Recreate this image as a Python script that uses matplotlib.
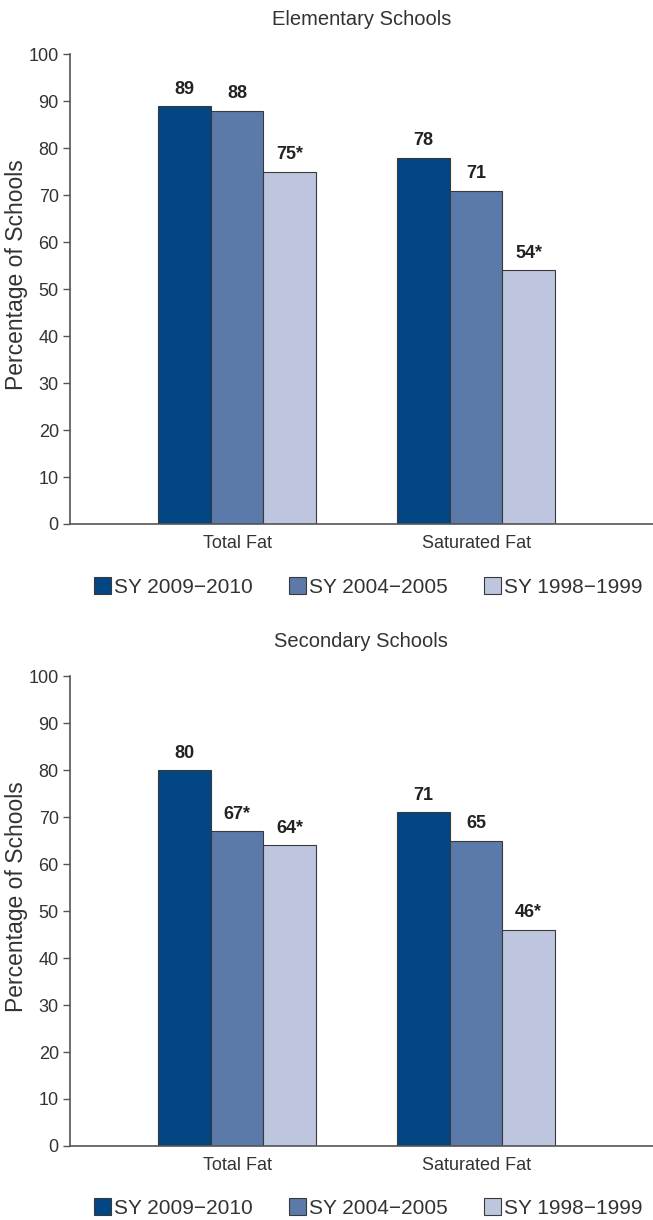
import numpy as np
import matplotlib
matplotlib.use('Agg')
import matplotlib.pyplot as plt
from matplotlib.patches import Patch

plt.rcParams['font.family'] = ['Liberation Sans', 'DejaVu Sans']

categories = ['Total Fat', 'Saturated Fat']
series_names = ['SY 2009\u22122010', 'SY 2004\u22122005', 'SY 1998\u22121999']
colors = ['#024683', '#5b79a9', '#bec6df']

elementary_vals = [[89, 78], [88, 71], [75, 54]]
elementary_labels = [['89', '78'], ['88', '71'], ['75*', '54*']]

secondary_vals = [[80, 71], [67, 65], [64, 46]]
secondary_labels = [['80', '71'], ['67*', '65'], ['64*', '46*']]

panels = [
    ('Elementary Schools', elementary_vals, elementary_labels),
    ('Secondary Schools', secondary_vals, secondary_labels),
]

fig = plt.figure(figsize=(6.53, 12.2), dpi=100)

axes_pos = [[0.107, 0.5705, 0.893, 0.385],
            [0.107, 0.0607, 0.893, 0.385]]
legend_y = [0.519, 0.0098]

width = 0.22
x = np.arange(len(categories))

for (title, vals, labels), pos, ly in zip(panels, axes_pos, legend_y):
    ax = fig.add_axes(pos)
    for i, (v, lab, c) in enumerate(zip(vals, labels, colors)):
        xs = x + (i - 1) * width
        ax.bar(xs, v, width, color=c, edgecolor='#3a3a3a', linewidth=0.8, zorder=2)
        for xi, vi, li in zip(xs, v, lab):
            ax.text(xi, vi + 1.8, li, ha='center', va='bottom', fontsize=13,
                    fontweight='bold', color='#222222')
    ax.set_xlim(-0.70, 1.74)
    ax.set_ylim(0, 100)
    ax.set_yticks(range(0, 101, 10))
    ax.set_xticks(x)
    ax.set_xticklabels(categories, fontsize=13, color='#333333')
    ax.tick_params(axis='x', length=0, pad=8)
    ax.tick_params(axis='y', length=5, width=1, color='#555555', labelsize=13,
                   labelcolor='#333333', pad=3)
    for s in ['top', 'right']:
        ax.spines[s].set_visible(False)
    for s in ['left', 'bottom']:
        ax.spines[s].set_color('#555555')
        ax.spines[s].set_linewidth(1.2)
    ax.set_ylabel('Percentage of Schools', fontsize=16.5, color='#333333')
    ax.yaxis.set_label_coords(-0.071, 0.53)
    ax.set_title(title, fontsize=14.5, color='#333333', pad=21)

    handles = [Patch(facecolor=c, edgecolor='#3a3a3a', linewidth=0.8) for c in colors]
    fig.legend(handles, series_names, loc='center', bbox_to_anchor=(0.564, ly),
               ncol=3, frameon=False, fontsize=15, handlelength=0.85, handleheight=0.85,
               handletextpad=0.15, columnspacing=1.7, labelcolor='#333333',
               borderpad=0, borderaxespad=0)

fig.savefig('out.png', dpi=100)
